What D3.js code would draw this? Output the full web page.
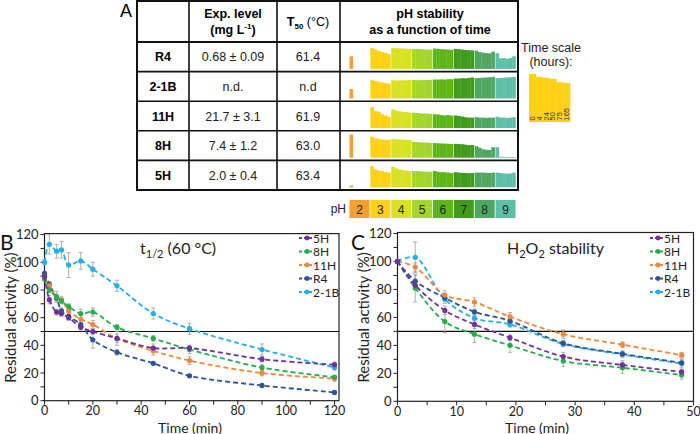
<!DOCTYPE html>
<html><head><meta charset="utf-8">
<script src="https://cdn.jsdelivr.net/npm/d3@7"></script>
<style>body{margin:0;background:#fff} svg{display:block}</style>
</head><body><svg id="c" width="700" height="434"></svg>
<script>
// ---------- Panel A data ----------
const strains = ["R4","2-1B","11H","8H","5H"];
const expLevel = ["0.68 ± 0.09","n.d.","21.7 ± 3.1","7.4 ± 1.2","2.0 ± 0.4"];
const t50 = ["61.4","n.d","61.9","63.0","63.4"];
const phLevels = [2,3,4,5,6,7,8,9];
const phColors = ["#f5a02c","#fcd116","#d9e222","#a3d52b","#5cb619","#409b1c","#50a762","#5ebfa8"];
const timeHours = ["0","4","24","50","75","165"];
const timeScaleRef = [100,94,92,90,83,81];
// residual activity (%) at each pH (rows of 6 time points)
const phR4   = [[60,0,0,0,0,0],[100,93,86,80,76,71],[100,99,98,97,96,95],[95,95,94,93,92,92],[97,96,94,93,92,91],[95,94,92,90,89,88],[87,80,77,75,74,82],[75,50,52,48,52,60]];
const ph21B  = [[45,0,0,0,0,0],[87,84,80,76,73,71],[87,86,86,87,87,88],[88,87,87,88,88,89],[90,90,91,90,92,92],[95,95,97,96,98,100],[97,98,99,100,101,103],[97,98,99,100,101,103]];
const ph11H  = [[0,0,0,0,0,0],[100,82,78,66,60,54],[89,84,80,77,76,74],[73,72,70,70,69,68],[66,65,62,60,62,60],[60,58,55,52,50,50],[52,50,50,49,50,50],[54,50,50,48,50,52]];
const ph8H   = [[110,0,0,0,0,0],[100,92,90,86,85,85],[90,88,87,86,85,84],[75,74,73,72,72,70],[70,69,68,67,66,65],[66,65,64,62,60,60],[55,47,40,38,37,50],[50,4,4,3,3,3]];
const ph5H   = [[8,0,0,0,0,0],[100,85,80,77,73,70],[97,90,85,82,80,78],[78,78,76,75,74,74],[78,74,72,72,70,68],[72,70,69,68,67,68],[70,70,70,69,68,70],[70,68,66,65,66,70]];
const phData = [phR4, ph21B, ph11H, ph8H, ph5H];

// ---------- Panel B / C data ----------
const seriesNames = ["5H","8H","11H","R4","2-1B"];
const seriesColors = ["#7030a0","#21b04b","#f7873a","#2f539b","#1eb0f0"];
const timeB = [0,2,5,7,10,15,20,30,45,60,90,120];
const b5H  = [90,73,64,63,60,53,50,45,38,38,30,26];
const b8H  = [88,80,75,72,68,63,64,53,45,37,24,17];
const b11H = [89,83,75,73,65,59,55,45,36,29,20,16];
const bR4  = [92,84,74,65,61,55,44,35,27,18,11,6];
const b21B = [100,113,108,109,98,101,95,83,63,52,37,24];
const eB5H  = [1,3,2,2,2,2,2,5,3,2,2,2];
const eB8H  = [1,2,2,2,2,3,3,2,2,3,2,1];
const eB11H = [1,2,4,2,3,3,3,3,3,3,2,2];
const eBR4  = [1,2,2,2,2,2,6,2,1,1,1,1];
const eB21B = [2,7,5,6,9,6,5,4,4,4,4,2];

const timeC = [0,3,8,13,19,28,38,48];
const c5H  = [100,83,65,55,45.5,32,26,21];
const c8H  = [100,81,57,48,40,28.8,24,18.8];
const c11H = [100,96,76,71,60.5,48,40.5,33];
const cR4  = [100,86,74,64,57.5,41.5,34,27.5];
const c21B = [100,103,73,59.5,55,41,33.5,27];
const eC5H  = [0,3,3,3,2,3,3,2];
const eC8H  = [0,10,8,6,5,4,4,3];
const eC11H = [0,3,3,3,3,3,2,2];
const eCR4  = [0,4,2,2,2,2,2,2];
const eC21B = [0,11,3,2,2,2,2,3];

const svg = d3.select("#c");
const AF = "'Liberation Sans', Arial, sans-serif";
const PF = "Lato, 'Open Sans', sans-serif";

// ================= Panel A =================
const gA = svg.append("g");
gA.append("text").attr("x",120).attr("y",17).attr("font-family",AF).attr("font-size",18).text("A");
const colX = [137,189,277,340,518];
const rowY = d3.scaleBand().domain(strains).range([42,190]);
const tl = (x1,y1,x2,y2,w)=>gA.append("line").attr("x1",x1).attr("y1",y1).attr("x2",x2).attr("y2",y2).attr("stroke","#111").attr("stroke-width",w);
tl(137,1,518,1,2); tl(137,190,518,190,2);
tl(137,42,518,42,2);
strains.slice(1).forEach(s=>tl(137,rowY(s),518,rowY(s),1.6));
colX.forEach((x,i)=>tl(x,0,x,191,(i===0||i===4)?2:1.6));
const hdr = (x,y,t)=>gA.append("text").attr("x",x).attr("y",y).attr("text-anchor","middle").attr("font-family",AF).attr("font-weight","bold").attr("font-size",12.5).text(t);
hdr(233,18,"Exp. level");
const mg = hdr(233,34,"(mg L");
mg.append("tspan").attr("font-size",8).attr("dy",-5).text("-1");
mg.append("tspan").attr("dy",5).text(")");
const tt = gA.append("text").attr("x",308).attr("y",26).attr("text-anchor","middle").attr("font-family",AF).attr("font-weight","bold").attr("font-size",12.5).text("T");
tt.append("tspan").attr("font-size",8).attr("dy",3).text("50");
tt.append("tspan").attr("dy",-3).attr("font-weight","normal").text(" (°C)");
hdr(430,18,"pH stability");
hdr(430,34,"as a function of time");
strains.forEach((s,i)=>{
  const cy = rowY(s)+rowY.bandwidth()/2+4.5;
  gA.append("text").attr("x",163).attr("y",cy).attr("text-anchor","middle").attr("font-family",AF).attr("font-weight","bold").attr("font-size",12.5).text(s);
  gA.append("text").attr("x",233).attr("y",cy).attr("text-anchor","middle").attr("font-family",AF).attr("font-size",12.5).attr("fill","#222").text(expLevel[i]);
  gA.append("text").attr("x",308).attr("y",cy).attr("text-anchor","middle").attr("font-family",AF).attr("font-size",12.5).attr("fill","#222").text(t50[i]);
});
// pH bars
const phX = d3.scaleBand().domain(phLevels).range([349.5,515.5]).paddingInner(0.04);
const tX = d3.scaleBand().domain(d3.range(6)).range([0,phX.bandwidth()]);
const hY = d3.scaleLinear().domain([0,100]).range([0,21]);
strains.forEach((s,i)=>{
  const base = rowY(s)+rowY.bandwidth()-2.7;
  phLevels.forEach((p,j)=>{
    phData[i][j].forEach((v,k)=>{
      if(v<=0) return;
      gA.append("rect").attr("x",phX(p)+tX(k)).attr("width",tX.bandwidth()+0.3)
        .attr("y",base-hY(v)).attr("height",hY(v)).attr("fill",phColors[j]);
    });
  });
});
// pH legend
gA.append("text").attr("x",346).attr("y",213).attr("text-anchor","end").attr("font-family",AF).attr("font-size",12).attr("fill","#222").text("pH");
phLevels.forEach((p,j)=>{
  gA.append("rect").attr("x",phX(p)).attr("y",200).attr("width",phX.bandwidth()).attr("height",18).attr("fill",phColors[j]);
  gA.append("text").attr("x",phX(p)+phX.bandwidth()/2).attr("y",213.5).attr("text-anchor","middle").attr("font-family",AF).attr("font-size",12).attr("fill","#222").text(p);
});
// time scale legend
gA.append("text").attr("x",551).attr("y",52).attr("text-anchor","middle").attr("font-family",AF).attr("font-size",12.5).attr("fill","#222").text("Time scale");
gA.append("text").attr("x",551).attr("y",66).attr("text-anchor","middle").attr("font-family",AF).attr("font-size",12.5).attr("fill","#222").text("(hours):");
const tsX = d3.scaleBand().domain(timeHours).range([529,570]);
const tsH = d3.scaleLinear().domain([0,100]).range([0,48]);
timeHours.forEach((h,k)=>{
  gA.append("rect").attr("x",tsX(h)).attr("width",tsX.bandwidth()+0.3).attr("y",122-tsH(timeScaleRef[k])).attr("height",tsH(timeScaleRef[k])).attr("fill","#fcd116");
  gA.append("text").attr("transform",`translate(${tsX(h)+tsX.bandwidth()/2+2.5},120.5) rotate(-90)`).attr("font-family",AF).attr("font-size",7.5).attr("fill","#333").text(h);
});

// ================= Panels B & C =================
function panel(opt){
  const g = svg.append("g");
  const x = d3.scaleLinear().domain(opt.xd).range(opt.xr);
  const y = d3.scaleLinear().domain([0,120]).range(opt.yr);
  g.append("rect").attr("x",opt.xr[0]).attr("y",opt.yr[1]-1).attr("width",opt.frameR-opt.xr[0]).attr("height",opt.yr[0]-opt.yr[1]+1)
    .attr("fill","none").attr("stroke","#222").attr("stroke-width",1.2);
  d3.range(0,121,10).forEach(v=>{
    g.append("line").attr("x1",opt.xr[0]-4).attr("x2",opt.xr[0]).attr("y1",y(v)).attr("y2",y(v)).attr("stroke","#222");
  });
  d3.range(0,121,20).forEach(v=>{
    g.append("text").attr("x",opt.xr[0]-6).attr("y",y(v)+4.5).attr("text-anchor","end").attr("font-family",PF).attr("font-size",13).attr("fill","#222").text(v);
  });
  d3.range(opt.xd[0],opt.xd[1]+0.01,opt.minor).forEach(v=>{
    g.append("line").attr("x1",x(v)).attr("x2",x(v)).attr("y1",opt.yr[0]).attr("y2",opt.yr[0]+4).attr("stroke","#222");
  });
  d3.range(opt.xd[0],opt.xd[1]+0.01,opt.major).forEach(v=>{
    g.append("text").attr("x",x(v)).attr("y",opt.yr[0]+14.5).attr("text-anchor","middle").attr("font-family",PF).attr("font-size",12.5).attr("fill","#222").text(v);
  });
  g.append("line").attr("x1",opt.xr[0]).attr("x2",opt.frameR).attr("y1",y(50)).attr("y2",y(50)).attr("stroke","#111").attr("stroke-width",1.2);
  g.append("text").attr("transform",`translate(${opt.xr[0]-29},${(opt.yr[0]+opt.yr[1])/2}) rotate(-90)`).attr("text-anchor","middle").attr("font-family",PF).attr("font-size",15).attr("fill","#222").text("Residual activity (%)");
  g.append("text").attr("x",opt.xtitleX).attr("y",432.5).attr("text-anchor","middle").attr("font-family",PF).attr("font-size",14).attr("fill","#222").text("Time (min)");
  g.append("text").attr("x",opt.letterX).attr("y",250).attr("font-family",PF).attr("font-size",21).attr("fill","#111").text(opt.letter);
  const order = [4,3,2,1,0];
  opt.series.forEach((sv,si)=>{
    sv.forEach((v,k)=>{
      const e = opt.errs[si][k]; if(!e) return;
      const xx = x(opt.t[k]);
      g.append("line").attr("x1",xx).attr("x2",xx).attr("y1",y(v-e)).attr("y2",y(v+e)).attr("stroke","#a8a8a8").attr("stroke-width",0.9);
      [v-e,v+e].forEach(w=>g.append("line").attr("x1",xx-2).attr("x2",xx+2).attr("y1",y(w)).attr("y2",y(w)).attr("stroke","#a8a8a8").attr("stroke-width",0.9));
    });
  });
  const line = d3.line().x((d,k)=>x(opt.t[k])).y(d=>y(d)).curve(d3.curveCatmullRom.alpha(0.5));
  order.forEach(si=>{
    g.append("path").attr("d",line(opt.series[si])).attr("fill","none").attr("stroke",seriesColors[si]).attr("stroke-width",1.8).attr("stroke-dasharray","5,3");
    opt.series[si].forEach((v,k)=>g.append("circle").attr("cx",x(opt.t[k])).attr("cy",y(v)).attr("r",2.6).attr("fill",seriesColors[si]));
  });
  g.append("text").attr("x",opt.titleX).attr("y",254).attr("font-family",PF).attr("font-size",16).attr("fill","#222").call(opt.title);
  seriesNames.forEach((n,i)=>{
    const ly = 238+i*13.5;
    g.append("line").attr("x1",opt.legX).attr("x2",opt.legX+13).attr("y1",ly).attr("y2",ly).attr("stroke",seriesColors[i]).attr("stroke-width",1.8).attr("stroke-dasharray","3,2");
    g.append("circle").attr("cx",opt.legX+8).attr("cy",ly).attr("r",2.4).attr("fill",seriesColors[i]);
    g.append("text").attr("x",opt.legX+14).attr("y",ly+4.5).attr("font-family",PF).attr("font-size",12).attr("fill","#222").text(n);
  });
}

panel({
  xd:[0,120], xr:[44.5,334.5], frameR:339, yr:[400.7,234.6], minor:10, major:20,
  t:timeB, series:[b5H,b8H,b11H,bR4,b21B], errs:[eB5H,eB8H,eB11H,eBR4,eB21B],
  xtitleX:190, letter:"B", letterX:0, titleX:140, legX:299,
  title: s=>{ s.text("t"); s.append("tspan").attr("font-size",11).attr("dy",4).text("1/2"); s.append("tspan").attr("dy",-4).text(" (60 °C)"); }
});
panel({
  xd:[0,50], xr:[397.5,693.5], frameR:693.5, yr:[401.3,233.5], minor:5, major:10,
  t:timeC, series:[c5H,c8H,c11H,cR4,c21B], errs:[eC5H,eC8H,eC11H,eCR4,eC21B],
  xtitleX:537, letter:"C", letterX:351, titleX:507, legX:650,
  title: s=>{ s.text("H"); s.append("tspan").attr("font-size",11).attr("dy",4).text("2"); s.append("tspan").attr("dy",-4).text("O"); s.append("tspan").attr("font-size",11).attr("dy",4).text("2"); s.append("tspan").attr("dy",-4).text(" stability"); }
});
</script></body></html>
